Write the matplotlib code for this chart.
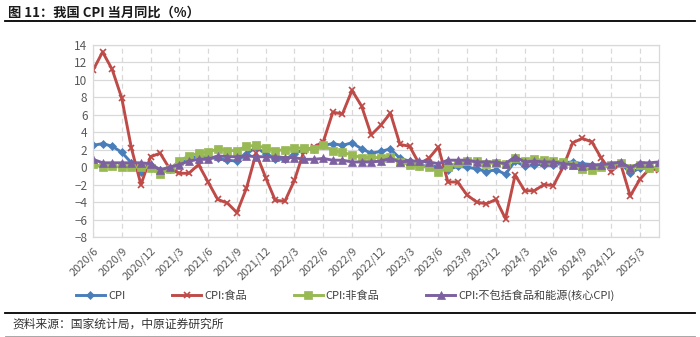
import matplotlib
matplotlib.use("Agg")
import matplotlib.pyplot as plt
from matplotlib.lines import Line2D

plt.rcParams['font.family'] = ['Noto Sans CJK SC', 'DejaVu Sans']

# Monthly, 2020/6 .. 2025/5
months = []
y, m = 2020, 6
for _ in range(60):
    months.append(f"{y}/{m}")
    m += 1
    if m > 12:
        m = 1
        y += 1

cpi = [2.5, 2.7, 2.4, 1.7, 0.5, -0.5, 0.2,
       -0.3, -0.2, 0.4, 0.9, 1.3, 1.1, 1.0, 0.8, 0.7, 1.5, 2.3, 1.5,
       0.9, 0.9, 1.5, 2.1, 2.1, 2.5, 2.7, 2.5, 2.8, 2.1, 1.6, 1.8,
       2.1, 1.0, 0.7, 0.1, 0.2, 0.0, -0.3, 0.1, 0.0, -0.2, -0.5, -0.3,
       -0.8, 0.7, 0.1, 0.3, 0.3, 0.2, 0.5, 0.6, 0.4, 0.3, 0.2, 0.1,
       0.5, -0.7, -0.1, -0.1, -0.1]
food = [11.1, 13.2, 11.2, 7.9, 2.2, -2.0, 1.2,
        1.6, -0.2, -0.7, -0.7, 0.3, -1.7, -3.7, -4.1, -5.2, -2.4, 1.6, -1.2,
        -3.8, -3.9, -1.5, 1.9, 2.3, 2.9, 6.3, 6.1, 8.8, 7.0, 3.7, 4.8,
        6.2, 2.6, 2.4, 0.4, 1.0, 2.3, -1.7, -1.7, -3.2, -4.0, -4.2, -3.7,
        -5.9, -0.9, -2.7, -2.7, -2.0, -2.1, 0.0, 2.8, 3.3, 2.9, 1.0, -0.5,
        0.4, -3.3, -1.4, -0.2, -0.3]
nonfood = [0.4, 0.0, 0.1, 0.0, 0.0, 0.0, -0.1,
           -0.8, -0.2, 0.7, 1.3, 1.6, 1.7, 2.1, 1.9, 1.9, 2.4, 2.5, 2.2,
           1.9, 2.0, 2.2, 2.2, 2.1, 2.5, 1.9, 1.7, 1.4, 1.1, 1.1, 1.1,
           1.2, 0.6, 0.3, 0.1, 0.0, -0.5, 0.0, 0.5, 0.7, 0.7, 0.4, 0.5,
           0.4, 1.1, 0.7, 0.9, 0.8, 0.7, 0.6, 0.2, -0.2, -0.3, 0.0, 0.2,
           0.5, -0.1, 0.2, -0.1, 0.0]
core = [0.9, 0.5, 0.5, 0.5, 0.5, 0.5, 0.4,
        -0.3, 0.0, 0.3, 0.7, 0.9, 0.9, 1.3, 1.2, 1.2, 1.3, 1.2, 1.2,
        1.2, 1.1, 1.1, 0.9, 0.9, 1.0, 0.8, 0.8, 0.6, 0.6, 0.6, 0.7,
        1.0, 0.6, 0.7, 0.7, 0.6, 0.4, 0.8, 0.8, 0.8, 0.6, 0.6, 0.6,
        0.4, 1.2, 0.6, 0.7, 0.6, 0.6, 0.4, 0.3, 0.1, 0.2, 0.3, 0.4,
        0.6, -0.1, 0.5, 0.5, 0.6]

labels = ["CPI", "CPI:食品", "CPI:非食品", "CPI:不包括食品和能源(核心CPI)"]
colors = ["#4A7EBB", "#BE4B48", "#98B954", "#7D60A0"]
markers = ["D", "x", "s", "^"]
msizes = [4, 4.5, 5.5, 5.5]

fig = plt.figure(figsize=(7.0, 3.37), dpi=100)
ax = fig.add_axes([93/700, 100/337, 566/700, 192/337])

x = list(range(len(months)))
series = [cpi, food, nonfood, core]
for s, c, mk, ms, lb in zip(series, colors, markers, msizes, labels):
    ax.plot(x, s, color=c, lw=2.1, marker=mk, ms=ms, mew=1.2 if mk == "x" else 0.5,
            mec=c, mfc=c, label=lb, solid_joinstyle='round')

ax.set_xlim(0, len(months) - 1)
ax.set_ylim(-8, 14)
ax.set_yticks(range(-8, 15, 2))
ticks = list(range(0, len(months), 3))
ax.set_xticks(ticks)
ax.set_xticklabels([months[i] for i in ticks], rotation=45, ha='right',
                   rotation_mode='anchor', fontsize=8, color='#595959')
for t in ax.get_yticklabels():
    t.set_fontsize(8.5)
    t.set_color('#595959')
ax.tick_params(length=0, pad=4)
ax.tick_params(axis='x', pad=6)
ax.grid(axis='y', color='#D9D9D9', lw=0.9, ls='-')
ax.grid(axis='x', color='#D9D9D9', lw=0.9, ls=(0, (4, 3)))
ax.set_axisbelow(True)
for sp in ax.spines.values():
    sp.set_color('#D9D9D9')
    sp.set_linewidth(0.9)

handles = [Line2D([], [], color=c, lw=2.1, marker=mk, ms=ms, mec=c, mfc=c,
                  mew=1.2 if mk == "x" else 0.5)
           for c, mk, ms in zip(colors, markers, msizes)]
fig.legend(handles, labels, loc='center left', bbox_to_anchor=(66/700, 1 - 295/337),
           ncol=4, frameon=False, fontsize=8, handlelength=2.6, handletextpad=0.3,
           columnspacing=4.2, labelcolor='#404040')

# title and frame lines
fig.text(8/700, 1 - 13/337, "图 11：我国 CPI 当月同比（%）", fontsize=9.5, fontweight='bold',
         va='center', ha='left', color='#1a1a1a')
fig.add_artist(Line2D([5/700, 695/700], [1 - 21/337, 1 - 21/337], color='black', lw=1.3))
fig.add_artist(Line2D([5/700, 695/700], [1 - 312.5/337, 1 - 312.5/337], color='black', lw=1.3))
fig.add_artist(Line2D([5/700, 695/700], [1 - 336/337, 1 - 336/337], color='#999999', lw=0.6))
fig.text(12/700, 1 - 324/337, "资料来源：国家统计局，中原证券研究所", fontsize=8.5,
         va='center', ha='left', color='#333333')

fig.savefig("out.png", dpi=100)
